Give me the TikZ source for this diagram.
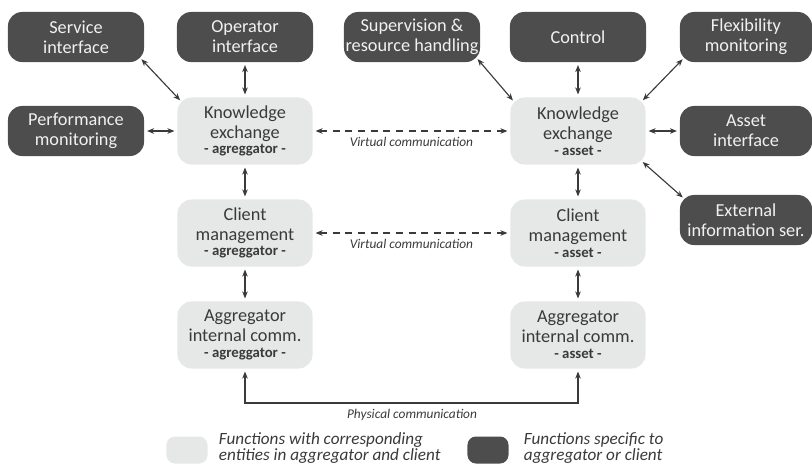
\documentclass[tikz,border=0pt]{standalone}
\usepackage{fontspec}
\setmainfont{Carlito}
\usetikzlibrary{arrows.meta}
\definecolor{darkfill}{HTML}{4D4D4D}
\definecolor{lightfill}{HTML}{E6E7E7}
\definecolor{inkgray}{HTML}{3A3A3A}
\tikzstyle{func}=[rounded corners=10pt, inner sep=0pt, align=center, font=\fontsize{13}{14.2}\selectfont]
\tikzstyle{shared}=[func, fill=lightfill, text=inkgray, minimum width=3.375cm, minimum height=1.675cm]
\tikzstyle{specific}=[func, fill=darkfill, text=white!92!darkfill, minimum width=3.4cm, minimum height=1.25cm]
\tikzstyle{rspecific}=[specific, minimum width=3.3cm]
\tikzstyle{link}=[draw=inkgray, line width=0.8pt, {Stealth[length=5pt,width=4pt]}-{Stealth[length=5pt,width=4pt]}, shorten <=2pt, shorten >=2pt]
\tikzstyle{diaglink}=[link, shorten <=-3pt, shorten >=-3pt]
\tikzstyle{virtual}=[link, dash pattern=on 5pt off 4pt]
\tikzstyle{commlabel}=[text=inkgray, font=\fontsize{9.5}{10}\selectfont\itshape]
\tikzstyle{legendtext}=[text=inkgray, anchor=west, align=left, font=\fontsize{12.2}{11.5}\selectfont\itshape]
\newcommand{\entityside}[1]{\\[-3pt]{\fontsize{10.5}{10}\selectfont\bfseries - #1 -}}

\begin{document}
\begin{tikzpicture}[x=0.025cm, y=-0.025cm]
        \useasboundingbox (0,0) rectangle (812,469);
        \node[specific] (serv) at (76,37) {Service\\interface};
        \node[specific] (oper) at (245,37) {Operator\\interface};
        \node[specific] (superv) at (412,37) {Supervision \&\\resource handling};
        \node[specific] (ctrl) at (578,37) {Control};
        \node[rspecific] (flex) at (746,37) {Flexibility\\monitoring};
        \node[specific] (perf) at (76,131) {Performance\\monitoring};
        \node[rspecific] (asset) at (746,131) {Asset\\interface};
        \node[rspecific] (extinfo) at (746,220) {External\\information ser.};
        \node[shared] (keA) at (245,131) {Knowledge\\exchange\entityside{agreggator}};
        \node[shared] (keB) at (578,131) {Knowledge\\exchange\entityside{asset}};
        \node[shared] (cmA) at (245,233) {Client\\management\entityside{agreggator}};
        \node[shared] (cmB) at (578,233) {Client\\management\entityside{asset}};
        \node[shared] (icA) at (245,335) {Aggregator\\internal comm.\entityside{agreggator}};
        \node[shared] (icB) at (578,335) {Aggregator\\internal comm.\entityside{asset}};
        \coordinate (phys) at (412,403);
        \draw[diaglink] (serv.south east) -- (keA.north west);
        \draw[link] (oper) -- (keA);
        \draw[link] (perf) -- (keA);
        \draw[diaglink] (superv.south east) -- (keB.north west);
        \draw[link] (ctrl) -- (keB);
        \draw[diaglink] (flex.south west) -- (keB.north east);
        \draw[link] (keB) -- (asset);
        \draw[diaglink] (extinfo.north west) -- (keB.south east);
        \draw[link] (keA) -- (cmA);
        \draw[link] (cmA) -- (icA);
        \draw[link] (keB) -- (cmB);
        \draw[link] (cmB) -- (icB);
        \draw[virtual] (keA) -- node[commlabel, below=1pt] (vlabel1) {Virtual communication} (keB);
        \draw[virtual] (cmA) -- node[commlabel, below=1pt] (vlabel2) {Virtual communication} (cmB);
        \draw[link] (icA.south) |- (phys) -| (icB.south);
        \node[commlabel, below=1pt] (plabel) at (phys) {Physical communication};
        \node[fill=lightfill, rounded corners=6pt, minimum width=1.025cm, minimum height=0.675cm] (legA) at (187,450) {};
        \node[legendtext] (legAtext) at (214,448) {Functions with corresponding\\entities in aggregator and client};
        \node[fill=darkfill, rounded corners=6pt, minimum width=1.025cm, minimum height=0.675cm] (legB) at (488,450) {};
        \node[legendtext] (legBtext) at (519,448) {Functions specific to\\aggregator or client};
    \end{tikzpicture}
\end{document}
